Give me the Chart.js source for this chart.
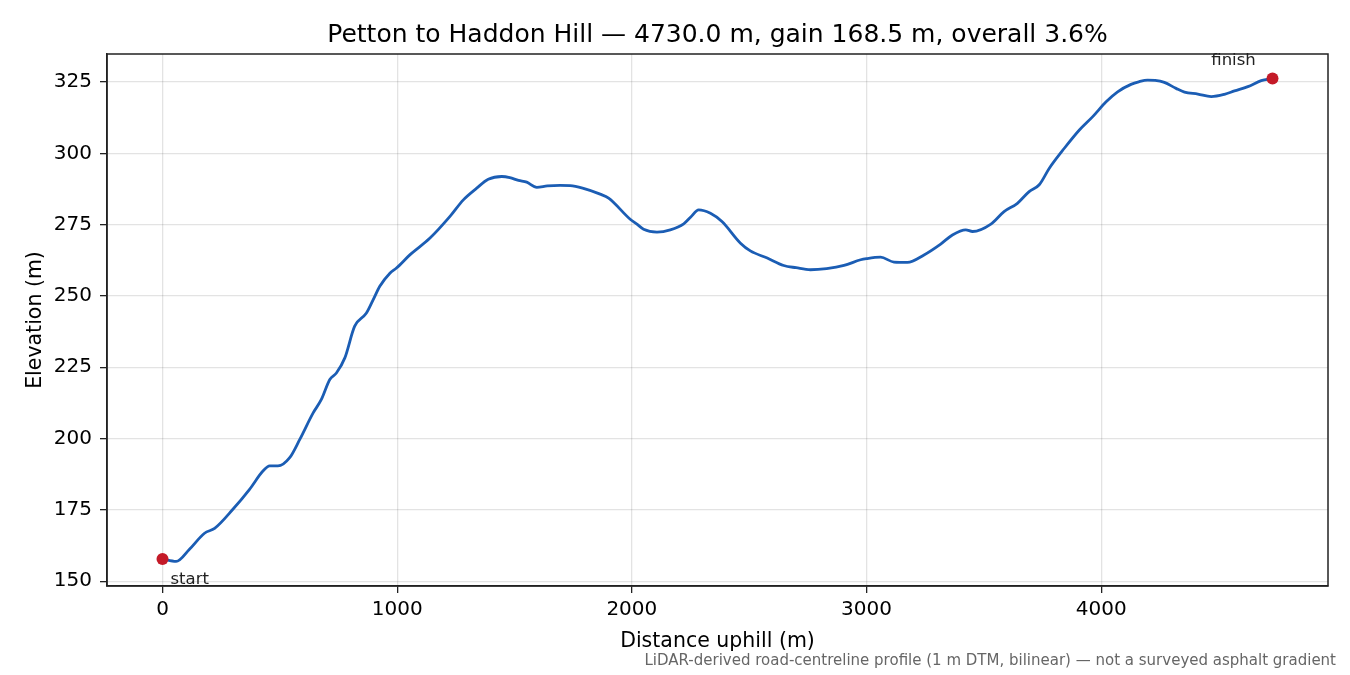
<!DOCTYPE html>
<html>
<head>
<meta charset="utf-8">
<script src="https://cdn.jsdelivr.net/npm/chart.js@4/dist/chart.umd.min.js"></script>
<style>
  html, body { margin: 0; padding: 0; background: #fff; }
  #wrap { width: 1350px; height: 675px; }
</style>
</head>
<body>
<div id="wrap"><canvas id="profile" width="1350" height="675"></canvas></div>
<script>
// distance along the road (m) and elevation (m)
var distance = [0, 58, 115, 179, 222, 300, 371, 428, 457, 492, 542, 585, 642, 677, 713, 741, 777, 819, 869, 898,
  926, 969, 997, 1054, 1140, 1225, 1282, 1339, 1388, 1446, 1480, 1517, 1552, 1595, 1640, 1694, 1737, 1790, 1865, 1901,
  1993, 2020, 2050, 2107, 2164, 2221, 2250, 2285, 2335, 2384, 2463, 2505, 2577, 2647, 2700, 2761, 2830, 2904, 2975, 3000,
  3060, 3117, 3174, 3245, 3316, 3366, 3423, 3452, 3530, 3586, 3643, 3693, 3736, 3779, 3843, 3907, 3964, 4021, 4070, 4127,
  4160, 4198, 4230, 4269, 4319, 4355, 4412, 4469, 4525, 4568, 4625, 4682, 4730]
var elevation = [157.8, 156.9, 161.2, 166.8, 168.5, 175.2, 182.2, 188.6, 190.4, 190.4, 193.3, 199.7, 209.0, 213.7, 220.7, 223.0, 228.3, 239.4, 244.0, 248.7,
  253.4, 258.0, 259.8, 264.4, 270.3, 277.9, 283.7, 287.8, 290.9, 291.9, 291.5, 290.5, 289.9, 288.1, 288.6, 288.8, 288.7, 287.8, 285.7, 284.3,
  276.9, 275.3, 273.4, 272.4, 273.2, 275.3, 277.6, 280.2, 279.0, 276.1, 268.5, 265.8, 263.3, 260.7, 259.9, 259.2, 259.6, 260.7, 262.7, 263.1,
  263.6, 261.9, 261.8, 264.4, 268.2, 271.4, 273.2, 272.6, 275.2, 279.6, 282.5, 286.6, 289.0, 294.8, 301.8, 308.2, 312.9, 318.1, 321.6, 324.2,
  325.1, 325.7, 325.6, 324.9, 322.8, 321.5, 320.8, 319.9, 320.7, 321.9, 323.4, 325.5, 326.3]
var xTicks = [0, 1000, 2000, 3000, 4000]
var yTicks = [150, 175, 200, 225, 250, 275, 300, 325]
var endLabels = ['start', 'finish']

var titleText = 'Petton to Haddon Hill \u2014 4730.0 m, gain 168.5 m, overall 3.6%'
var xTitle = 'Distance uphill (m)'
var yTitle = 'Elevation (m)'
var footNote = 'LiDAR-derived road-centreline profile (1 m DTM, bilinear) \u2014 not a surveyed asphalt gradient'

var FONT = "'DejaVu Sans', 'Liberation Sans', sans-serif"

var pts = distance.map(function (d, i) { return { x: d, y: elevation[i] } })
var last = distance.length - 1
var ends = [{ x: distance[0], y: elevation[0] }, { x: distance[last], y: elevation[last] }]

var decor = {
  id: 'decor',
  afterDraw: function (chart) {
    var ctx = chart.ctx, a = chart.chartArea
    var sx = chart.scales.x, sy = chart.scales.y
    ctx.save()
    // full box round the axes
    ctx.strokeStyle = '#222'
    ctx.lineWidth = 1.5
    ctx.strokeRect(a.left, a.top, a.right - a.left, a.bottom - a.top)

    ctx.fillStyle = '#000'
    ctx.textAlign = 'center'
    ctx.textBaseline = 'alphabetic'
    ctx.font = '25px ' + FONT
    ctx.fillText(titleText, (a.left + a.right) / 2, 42)

    ctx.font = '20.5px ' + FONT
    ctx.fillText(xTitle, (a.left + a.right) / 2, 647)
    ctx.save()
    ctx.translate(41, (a.top + a.bottom) / 2)
    ctx.rotate(-Math.PI / 2)
    ctx.fillText(yTitle, 0, 0)
    ctx.restore()

    // start / finish labels next to their markers
    ctx.font = '16.5px ' + FONT
    ctx.fillStyle = '#222'
    ctx.textAlign = 'left'
    ctx.fillText(endLabels[0], sx.getPixelForValue(ends[0].x) + 8, sy.getPixelForValue(ends[0].y) + 25)
    ctx.textAlign = 'center'
    ctx.fillText(endLabels[1], sx.getPixelForValue(ends[1].x) - 39, sy.getPixelForValue(ends[1].y) - 13)

    ctx.font = '15px ' + FONT
    ctx.fillStyle = '#666'
    ctx.textAlign = 'right'
    ctx.fillText(footNote, 1336, 665)
    ctx.restore()
  }
}

var chart = new Chart(document.getElementById('profile'), {
  type: 'line',
  data: {
    datasets: [{
      data: pts,
      borderColor: '#1b5db4',
      borderWidth: 2.8,
      pointRadius: 0,
      tension: 0.3,
      cubicInterpolationMode: 'monotone',
      fill: false,
      order: 2
    }, {
      data: ends,
      showLine: false,
      pointRadius: 6,
      pointBackgroundColor: '#c41a28',
      pointBorderColor: '#c41a28',
      pointBorderWidth: 0,
      order: 1
    }]
  },
  options: {
    responsive: false,
    animation: false,
    devicePixelRatio: 1,
    layout: { padding: { top: 54, right: 22, left: 0, bottom: 0 } },
    plugins: { legend: { display: false }, tooltip: { enabled: false }, title: { display: false } },
    scales: {
      x: {
        type: 'linear',
        min: -236.5,
        max: 4966.5,
        afterBuildTicks: function (s) { s.ticks = xTicks.map(function (v) { return { value: v } }) },
        afterFit: function (s) { s.height = 89 },
        grid: { color: 'rgba(0,0,0,0.11)', lineWidth: 1.3, tickColor: '#222', tickLength: 7, tickWidth: 1.3 },
        border: { display: true, color: '#222', width: 1.5 },
        ticks: { color: '#000', font: { family: FONT, size: 20 }, padding: 5, maxRotation: 0,
          callback: function (v) { return String(v) } }
      },
      y: {
        type: 'linear',
        min: 148.3,
        max: 334.85,
        afterBuildTicks: function (s) { s.ticks = yTicks.map(function (v) { return { value: v } }) },
        afterFit: function (s) { s.width = 107 },
        grid: { color: 'rgba(0,0,0,0.11)', lineWidth: 1.3, tickColor: '#222', tickLength: 7, tickWidth: 1.3 },
        border: { display: true, color: '#222', width: 1.5 },
        ticks: { color: '#000', font: { family: FONT, size: 20 }, padding: 8,
          callback: function (v) { return String(v) } }
      }
    }
  },
  plugins: [decor]
})
</script>
</body>
</html>
